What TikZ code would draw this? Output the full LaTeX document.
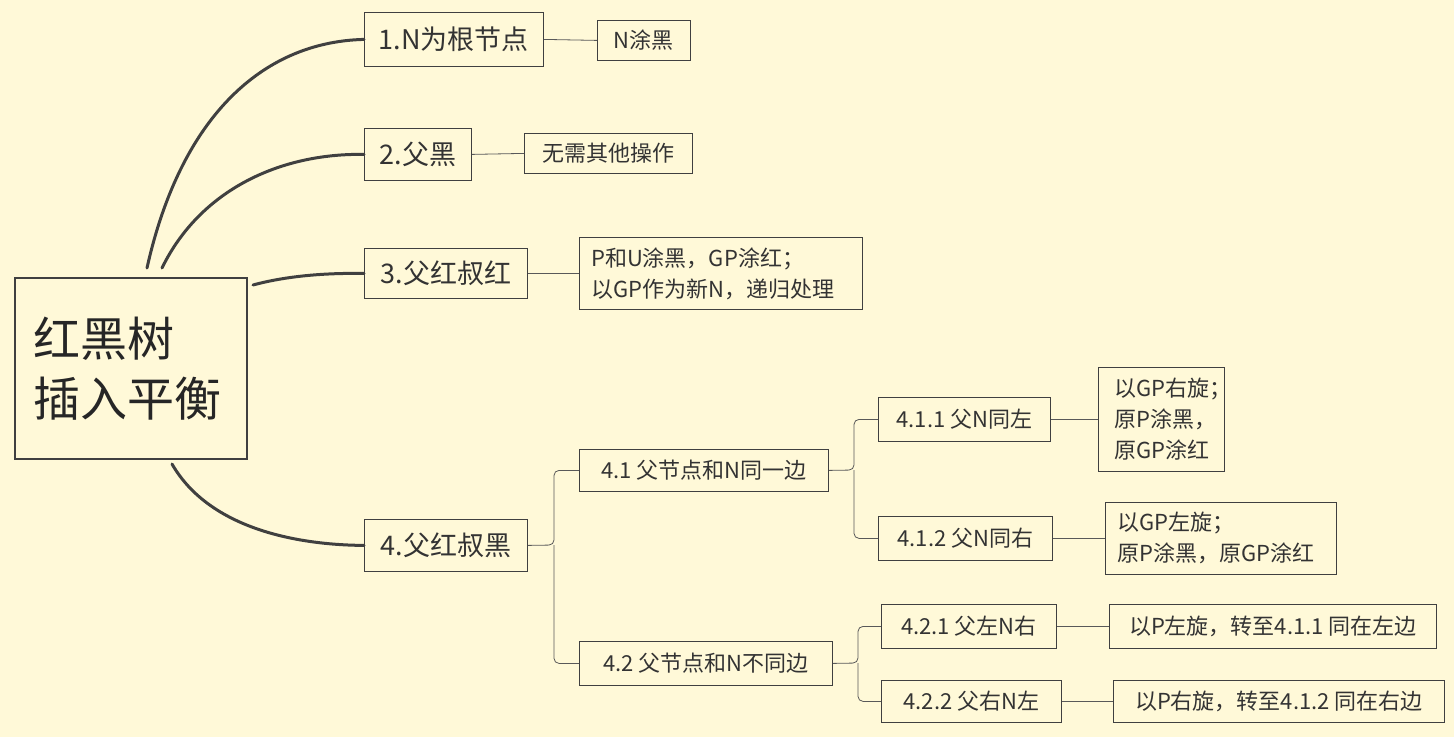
\documentclass[tikz,border=0pt]{standalone}
\usepackage{fontspec}
\setmainfont{Noto Sans CJK SC}
\begin{document}
\begin{tikzpicture}[x=1pt,y=-1pt,
  box/.style={draw=black!75,line width=0.8pt,inner sep=0pt,anchor=north west,align=left},
  big/.style={box},
  small/.style={box},
  lbl/.style={draw=none,anchor=center,inner sep=0pt,text=black!80},
  bigl/.style={lbl,font=\fontsize{27}{30}\selectfont},
  smalll/.style={lbl,font=\fontsize{22}{31}\selectfont,align=left},
  thick1/.style={draw=black!75,line width=3pt,line cap=round},
  thin1/.style={draw=black!65,line width=0.8pt,rounded corners=5pt}]
\fill[yellow!12!white!97!orange] (0,0) rectangle (1454,737);
\useasboundingbox (0,0) rectangle (1454,737);
% root
\node[box,line width=2pt,minimum width=232,minimum height=181] (r) at (14,277) {};
\node[font=\fontsize{47}{60}\selectfont,align=left,text=black!85,anchor=west] (rt) at (30,369) {红黑树\\插入平衡};
% boxes
\node[big,minimum width=179,minimum height=54] (a1) at (364,12) {};
\node[bigl] at (a1.center) {1.N为根节点};
\node[small,minimum width=93,minimum height=40] (b1) at (597,20) {};
\node[smalll] at (b1.center) {N涂黑};
\node[big,minimum width=107,minimum height=52] (a2) at (364,128) {};
\node[bigl] at (a2.center) {2.父黑};
\node[small,minimum width=168,minimum height=40] (b2) at (524,133) {};
\node[smalll] at (b2.center) {无需其他操作};
\node[big,minimum width=163,minimum height=50] (a3) at (364,248) {};
\node[bigl] at (a3.center) {3.父红叔红};
\node[small,minimum width=283,minimum height=72] (b3) at (579,237) {};
\node[smalll,anchor=west] at ([xshift=12]b3.west) {P和U涂黑，\textit{GP}涂红；\\以GP作为新N，递归处理};
\node[big,minimum width=163,minimum height=52] (a4) at (364,519) {};
\node[bigl] at (a4.center) {4.父红叔黑};
\node[small,minimum width=249,minimum height=42] (c1) at (579,449) {};
\node[smalll] at (c1.center) {4.1 父节点和N同一边};
\node[small,minimum width=253,minimum height=44] (c2) at (579,641) {};
\node[smalll] at (c2.center) {4.2 父节点和N不同边};
\node[small,minimum width=172,minimum height=44] (d1) at (878,397) {};
\node[smalll] at (d1.center) {4.1.1 父N同左};
\node[small,minimum width=174,minimum height=44] (d2) at (878,516) {};
\node[smalll] at (d2.center) {4.1.2 父N同右};
\node[small,minimum width=175,minimum height=44] (d3) at (881,604) {};
\node[smalll] at (d3.center) {4.2.1 父左N右};
\node[small,minimum width=180,minimum height=42] (d4) at (881,680) {};
\node[smalll] at (d4.center) {4.2.2 父右N左};
\node[small,minimum width=126,minimum height=104] (e1) at (1098,367) {};
\node[smalll,anchor=west] at ([xshift=16]e1.west) {以GP右旋；\\原P涂黑，\\原GP涂红};
\node[small,minimum width=231,minimum height=72] (e2) at (1105,502) {};
\node[smalll,anchor=west] at ([xshift=12]e2.west) {以GP左旋；\\原P涂黑，原GP涂红};
\node[small,minimum width=327,minimum height=44] (e3) at (1109,604) {};
\node[smalll] at (e3.center) {以P左旋，转至4.1.1 同在左边};
\node[small,minimum width=331,minimum height=42] (e4) at (1113,680) {};
\node[smalll] at (e4.center) {以P右旋，转至4.1.2 同在右边};
% thick curves
\draw[thick1] (147,268) .. controls (180,120) and (260,42) .. (a1.west);
\draw[thick1] (162,268) .. controls (200,190) and (280,153) .. (a2.west);
\draw[thick1] (253,285) .. controls (290,275) and (330,273) .. (a3.west);
\draw[thick1] (172,464) .. controls (210,530) and (300,545) .. (a4.west);
% thin
\draw[thin1] (a1.east) -- (b1.west);
\draw[thin1] (a2.east) -- (b2.west);
\draw[thin1] (a3.east) -- (b3.west);
\draw[thin1] (a4.east) -- (554,545) |- (c1.west);
\draw[thin1] (554,545) |- (c2.west);
\draw[thin1] (c1.east) -- (854,470) |- (d1.west);
\draw[thin1] (854,470) |- (d2.west);
\draw[thin1] (c2.east) -- (858,663) |- (d3.west);
\draw[thin1] (858,663) |- (d4.west);
\draw[thin1] (d1.east) -- (e1.west);
\draw[thin1] (d2.east) -- (e2.west);
\draw[thin1] (d3.east) -- (e3.west);
\draw[thin1] (d4.east) -- (e4.west);
\end{tikzpicture}
\end{document}
